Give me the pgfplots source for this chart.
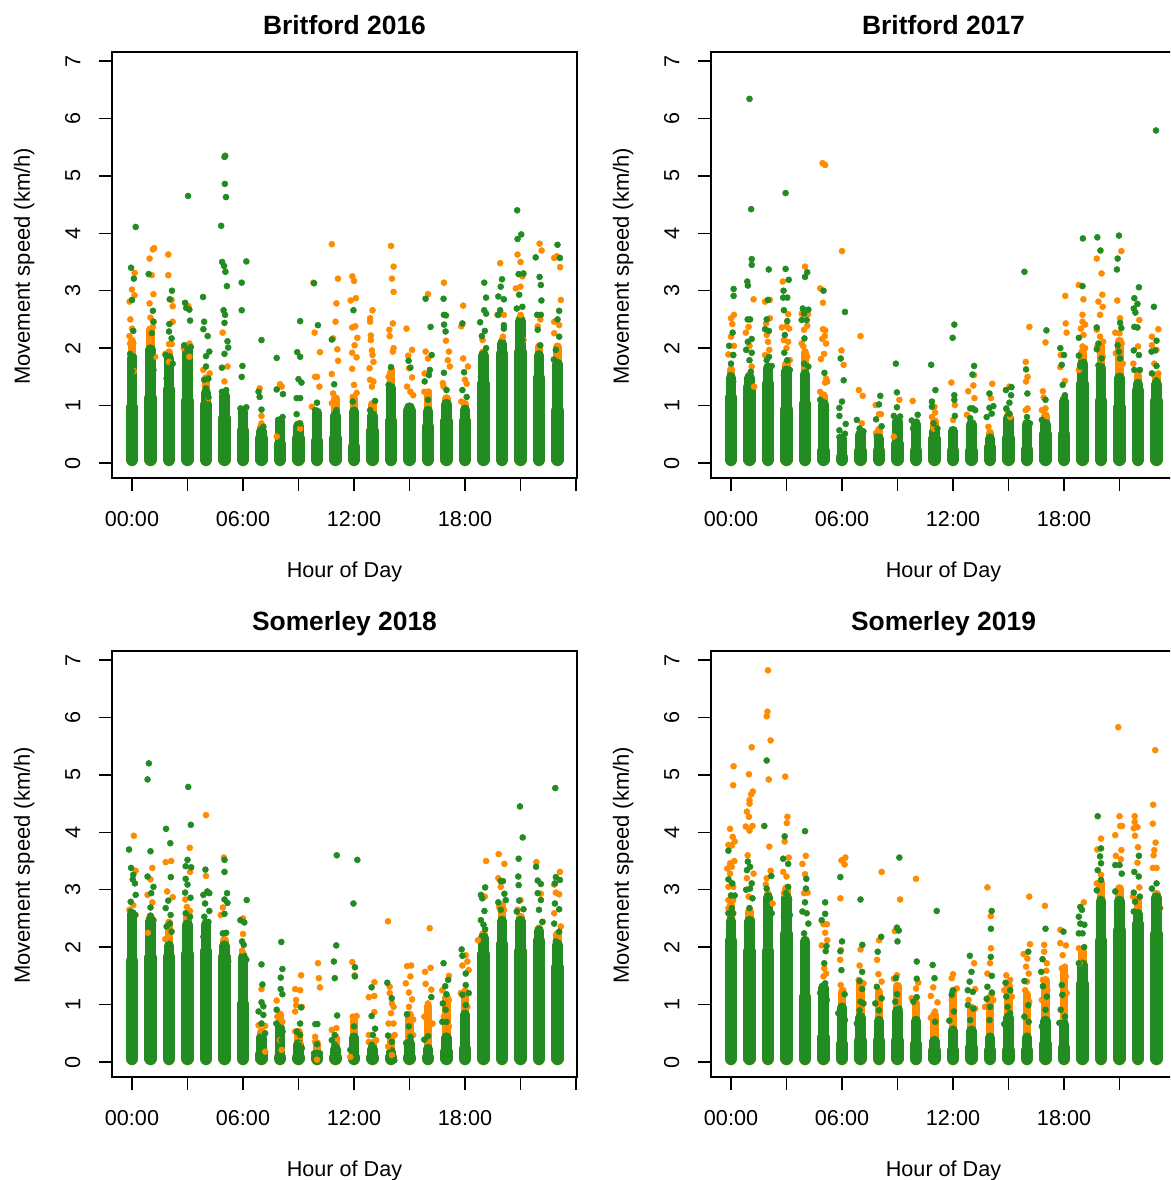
\documentclass[border=0pt]{standalone}
\usepackage{pgfplots}
\usepackage{pgfplotstable}
\usepackage{fontspec}
\setmainfont{Liberation Sans}
\pgfplotsset{compat=1.18}
\definecolor{og}{HTML}{FF8C00}
\definecolor{gr}{HTML}{228B22}
\pgfplotstableread{
h o w n
0 2.2 1.04 1.9
1 2.4 1.2 2.05
2 2.0 1.35 1.9
3 2.1 1.15 2.05
4 1.55 1.08 1.3
5 1.3 .85 1.25
6 1.0 .63 .97
7 .7 .5 .63
8 .8 .4 .8
9 .75 .5 .72
10 .95 .45 .95
11 1.2 .5 .9
12 1.2 .35 .97
13 1.1 .63 .9
14 1.65 .8 1.38
15 1.05 .98 1.04
16 1.3 .7 .98
17 1.2 .8 1.1
18 1.1 .8 1.0
19 2.0 1.45 1.95
20 2.2 1.97 2.15
21 2.6 2.0 2.55
22 2.1 1.55 1.95
23 2.1 .98 1.8
}\coreA
\pgfplotstableread{
h o w n
0 1.7 1.21 1.56
1 1.6 1.39 1.56
2 1.75 1.45 1.73
3 1.8 1.0 1.68
4 2.0 1.1 1.62
5 1.25 .28 1.1
6 .5 .17 .5
7 .6 .28 .57
8 .65 .28 .5
9 .8 .4 .8
10 .75 .28 .75
11 .8 .49 .63
12 .63 .28 .63
13 .75 .28 .75
14 .6 .34 .5
15 .9 .5 .86
16 .75 .3 .75
17 .9 .57 .75
18 1.2 .57 1.15
19 2.0 1.45 1.8
20 2.1 1.15 1.73
21 2.2 1.04 1.56
22 1.6 1.33 1.45
23 1.6 1.15 1.45
}\coreB
\pgfplotstableread{
h o w n
0 2.65 1.83 2.65
1 2.6 1.89 2.53
2 2.5 1.9 2.1
3 2.6 1.95 2.47
4 2.5 2.0 2.47
5 2.2 1.9 2.1
6 1.95 1.08 1.9
7 .6 .2 .5
8 .9 .12 .67
9 .6 .06 .38
10 .4 .05 .2
11 .5 .1 .3
12 .8 .15 .5
13 .4 .1 .3
14 .5 .05 .25
15 .9 .08 .4
16 1.05 .1 .3
17 1.2 .25 .5
18 1.3 .3 .9
19 2.3 1.95 2.24
20 2.8 2.12 2.53
21 2.6 2.0 2.53
22 2.4 2.18 2.36
23 2.3 1.72 2.12
}\coreC
\pgfplotstableread{
h o w n
0 2.82 2.18 2.53
1 2.7 2.0 2.53
2 3.0 2.0 2.94
3 3.1 2.3 2.94
4 2.2 1.2 2.18
5 1.4 .5 1.37
6 1.3 .38 1.02
7 1.45 .44 .85
8 1.3 .44 .79
9 1.4 .44 .96
10 1.1 .38 .79
11 .9 .27 .44
12 1.3 .27 .62
13 1.0 .32 .62
14 1.2 .27 .5
15 1.4 .27 .85
16 1.25 .27 .5
17 1.5 .38 .79
18 1.7 .32 .73
19 2.0 1.43 1.77
20 3.2 2.18 2.88
21 3.1 2.36 2.88
22 2.9 2.47 2.65
23 3.0 2.3 2.94
}\coreD
\newcommand{\panel}[6]{%
\begin{axis}[at={(#1*0.75pt,#2*0.75pt)},anchor=south west,scale only axis,
 width=348.75pt,height=319.5pt,
 xmin=-1.081,xmax=24.054,ymin=-0.261,ymax=7.157,
 axis line style={black,line width=1.1pt},
 tick style={black,line width=1.1pt},major tick length=9.75pt,
 tick align=outside,tick pos=left,
 xtick={0,3,6,9,12,15,18,21,24},
 xticklabels={00:00,,06:00,,12:00,,18:00,,},
 ytick={0,1,2,3,4,5,6,7},yticklabels={0,1,2,3,4,5,6,7},
 xticklabel style={font=\fontsize{16.2pt}{18pt}\selectfont,yshift=-12pt},
 yticklabel style={font=\fontsize{16.2pt}{18pt}\selectfont,rotate=90,anchor=south,yshift=10.5pt},
 title={\textbf{#3}},title style={font=\fontsize{19.8pt}{22pt}\selectfont,at={(axis description cs:0.5,1.0455)},anchor=center},
 xlabel={Hour of Day},xlabel style={font=\fontsize{16.2pt}{18pt}\selectfont,at={(axis description cs:0.5,-0.221)},anchor=center},
 ylabel={Movement speed (km/h)},ylabel style={font=\fontsize{16.5pt}{18pt}\selectfont,at={(axis description cs:-0.189,0.497)},anchor=center},
]
\addplot[ycomb,og,line width=9.7pt,line cap=round,yshift=2.6pt,mark=none] table[x=h,y expr={max(\thisrow{w}-0.14,0.01)}] {#4};
\addplot[ycomb,og,line width=6.5pt,line cap=round,yshift=1pt,mark=none] table[x=h,y expr={max(\thisrow{o}-0.1,0.01)}] {#4};
\addplot[only marks,mark=*,mark size=2.25pt,mark options={og,draw=none,fill=og}] coordinates {#5};
\addplot[ycomb,gr,line width=9.4pt,line cap=round,yshift=2.6pt,mark=none] table[x=h,y expr={max(\thisrow{w}-0.14,0.01)}] {#4};
\addplot[ycomb,gr,line width=8pt,line cap=round,yshift=1.5pt,mark=none] table[x=h,y expr={max(\thisrow{n}-0.11,0.01)}] {#4};
\addplot[only marks,mark=*,mark size=2.25pt,mark options={gr,draw=none,fill=gr}] coordinates {#6};
\end{axis}}
\begin{document}
\begin{tikzpicture}
\path[use as bounding box] (0,0) rectangle (877.5pt,885pt);
\clip (0,0) rectangle (877.5pt,885pt);
\panel{112}{702}{Britford 2016}{\coreA}{
(.14,3.31)(0,3.02)(.14,2.92)(-.13,2.81)(-.09,2.5)(0,2.34)(-.14,2.21)(.07,2.08)(-.1,2.08)(.1,1.6)
(1.13,3.72)(1.2,3.74)(.95,3.56)(1.07,3.27)(1.16,2.94)(.95,2.78)(1,2.53)(1.16,2.46)(1.13,2.37)(1.25,1.85)
(1.96,3.63)(1.96,3.27)(2.14,2.84)(2.2,2.73)(2.2,2.46)(2,2.07)(2.15,2.07)(1.8,1.9)(2,1.76)
(3.05,2.73)(3.1,2.08)(2.8,2.0)(3.1,1.85)
(3.85,1.62)(4.2,1.56)(4.13,1.13)
(4.9,2.27)(5.16,1.68)(5,1.42)
(6.9,1.3)(7,.82)(7,.69)(8,1.37)(7.82,.46)(8.09,1.33)(9.09,.6)
(9.8,3.14)(9.87,2.27)(10.16,1.93)(10,1.5)(9.9,1.5)(10.13,1.33)(9.72,.98)
(10.8,3.81)(11.13,3.21)(11.05,2.78)(11,2.46)(10.87,2.17)(11.1,1.98)(11.14,1.78)(10.8,1.55)(10.87,1.21)(10.8,1.04)
(11.91,3.25)(12,3.17)(11.82,2.83)(12.1,2.87)(11.9,2.36)(12.07,2.38)(12.18,2.18)(12.03,2.05)(11.9,1.92)(12.14,1.84)(11.9,1.64)(12,1.36)(11.93,1.15)(12.14,1.22)
(13,2.66)(12.87,2.52)(12.87,2.46)(12.91,2.22)(12.91,2.14)(12.97,1.96)(13,1.88)(13.05,1.76)(12.84,1.65)(12.87,1.45)(13.05,1.42)(12.97,1.33)
(14,3.78)(14.14,3.42)(14.05,3.21)(14.14,2.98)(14.1,2.43)(13.91,2.32)(13.93,2.21)(14.14,2.0)(14.1,1.94)(14.05,1.62)(13.87,1.5)
(14.84,2.34)(15.14,1.97)(14.93,1.87)(14.97,1.65)(15.14,1.49)(14.87,1.33)(15.05,1.24)(15.2,1.18)
(16,2.94)(15.87,1.94)(16,1.82)(15.8,1.24)(16.05,1.24)(15.82,1.56)
(16.86,3.14)(16.97,2.13)(17.13,1.94)(17.07,1.79)(17.18,1.68)(16.8,1.39)(16.84,1.33)
(17.9,2.74)(17.8,2.38)(17.9,1.82)(18.16,1.68)(18,1.45)(18.09,1.38)(17.8,1.07)
(18.95,2.14)
(19.9,3.48)(20.1,2.58)(19.75,2.58)(20.05,2.2)
(20.84,3.63)(21,3.5)(21.1,3.25)(20.75,3.04)(21,3.07)(21,2.58)(21.16,2.14)
(22.03,3.82)(22.14,3.7)(22.07,2.5)(21.93,2.38)
(22.82,3.57)(22.97,3.6)(23.14,3.41)(23.18,2.84)(22.82,2.46)(23.09,2.4)(22.82,2.26)
}{
(.2,4.11)(-.05,3.4)(.1,3.21)(0,2.84)(.07,2.3)(-.1,1.9)(.1,1.85)(0,1.6)(-.1,1.45)(.1,1.3)(-.1,1.2)(.05,1.1)
(.9,3.29)(1.13,2.65)(1.16,2.46)(1.07,2.26)(1,2.0)(1.07,1.9)(1,1.8)(1.16,1.62)(.9,1.56)(1,1.38)
(2.16,3.0)(2.04,2.85)(2.02,2.42)(2,2.29)(2.14,2.17)(1.82,1.88)(2.2,1.73)(1.97,1.65)(2.05,1.53)(1.87,1.47)
(3.03,4.65)(2.87,2.79)(2.93,2.7)(3.1,2.67)(3.14,2.48)(2.82,2.05)(3.18,2.02)(3,1.97)(3.05,1.7)(2.93,1.62)(3.1,1.5)(3,1.33)
(3.84,2.89)(3.9,2.46)(3.86,2.33)(4.09,2.21)(4.18,1.94)(4,1.86)(4,1.68)(3.9,1.45)(4.13,1.47)(4,1.3)(4.13,1.15)
(5,5.33)(5.04,5.35)(5.02,4.86)(5.08,4.63)(4.82,4.13)(4.87,3.5)(4.98,3.43)(5.05,3.33)(5.13,3.08)(4.95,2.66)(5.03,2.58)(5,2.44)(5.16,2.12)(5.2,2.01)(5,1.9)(4.86,1.66)(5.09,1.27)(4.86,1.24)(5,1.1)
(5.93,3.14)(6.18,3.51)(5.93,2.66)(5.97,1.69)(5.93,1.5)(5.86,.95)(6.18,.97)(6,.8)
(7,2.14)(6.84,1.24)(6.9,1.15)(7,.93)(7.1,.63)
(7.82,1.83)(7.82,1.28)(8.16,1.2)(8.14,.8)(7.9,.75)(8,.58)
(8.93,1.93)(9.09,1.85)(9.09,2.47)(9,1.46)(9.16,1.4)(8.9,1.13)(9.09,1.13)(8.9,.85)(9.09,.69)
(9.84,3.13)(10.05,2.4)(10,1.05)(9.9,.92)(10,.75)
(10.8,2.15)(10.93,1.37)(11.05,.92)(10.9,.8)
(11.97,2.66)(11.93,1.07)(11.9,.85)(12.05,.57)
(13.14,1.08)(12.87,.92)(13.05,.8)
(14,1.67)(13.87,1.36)(14.05,1.27)(14,1.1)(14.1,.92)(14,.75)
(14.95,1.78)(15.05,1.66)
(15.87,2.86)(16.2,1.88)(16.14,2.37)(16.1,1.62)(16.05,1.53)(15.82,1.42)(16,1.1)
(16.84,2.86)(16.86,2.58)(16.97,2.57)(16.87,2.41)(16.95,2.29)(16.86,1.57)(17,1.27)(17.03,1.04)
(17.86,2.43)(17.95,1.58)(17.86,1.27)(18.09,1.15)(18,.86)
(19.04,3.14)(19.14,2.88)(19.04,2.66)(19.14,2.6)(18.82,2.45)(19.07,2.3)(18.91,2.21)(19.14,2.0)(18.95,1.88)(19.04,1.68)(18.86,1.5)
(20,3.2)(19.93,3.07)(19.8,2.9)(20.1,2.85)(19.9,2.66)(19.8,2.58)(20.1,2.4)(20.1,2.34)(19.93,2.08)
(20.82,4.4)(21.04,3.98)(20.84,3.9)(20.9,3.29)(21.16,3.3)(20.93,2.93)(21.1,2.72)(20.8,2.69)(21,2.46)(20.93,2.2)(21.1,2.14)
(21.82,3.58)(22.03,3.24)(22.1,3.1)(22.13,2.83)(21.9,2.58)(22.1,2.58)(21.93,2.32)(22.07,2.05)(21.93,1.85)
(23,3.8)(23.13,3.57)(23.09,2.65)(23,2.5)(23.09,2.2)(22.91,1.97)(22.8,1.8)(23.09,1.73)(22.91,1.5)(23,1.33)
}
\panel{711}{702}{Britford 2017}{\coreB}{
(0,2.52)(.16,2.58)(.07,2.42)(0,2.2)(.16,2.04)(-.14,1.89)(.12,1.88)
(1.22,2.85)(.95,2.37)(.8,2.27)(1,2.04)(1.12,1.68)(1.25,1.33)
(2.1,2.84)(1.84,2.81)(2.1,2.52)(1.9,2.43)(1.93,2.23)(2,2.11)(2.07,1.97)(1.84,1.88)
(2.8,3.16)(3.09,2.59)(2.75,2.36)(3,2.38)(3.14,2.34)(2.86,2.14)(3.09,2.11)(3,2.0)(3.18,1.79)
(4,3.42)(4.16,2.59)(3.82,2.6)(4.12,2.39)(3.95,2.32)(3.82,2.08)(4,1.94)(4.12,1.85)(3.91,2.03)
(4.95,5.22)(5.09,5.19)(4.82,3.04)(4.97,2.79)(4.97,2.33)(5.09,2.31)(5.07,2.21)(4.93,2.16)(5.14,2.08)(5.03,1.9)(4.86,1.81)(5.14,1.47)(5.2,1.42)(5.09,1.4)(4.82,1.24)
(6,3.69)(5.97,1.96)(6.09,1.71)
(7,2.21)(6.91,1.27)(7.12,1.17)(7.07,.69)
(7.82,1.01)(8,.85)(8.1,.85)(7.84,.52)
(9.1,1.1)(8.8,.46)(9.82,1.08)
(10.86,.8)(11,.98)(10.95,.6)(11.03,.88)
(11.91,1.4)(12.1,1.01)(12,.75)
(12.82,1.25)(13.1,1.35)(13.16,1.13)(13.14,1.53)(12.75,.84)
(14.12,1.38)(14.05,1.13)(13.91,.63)
(15.05,1.33)(14.91,.92)(15.09,.8)
(16.13,2.37)(15.93,1.76)(16.03,1.5)(15.95,1.42)(15.93,.92)(16.03,.95)
(17,2.1)(16.86,1.25)(16.9,1.14)(17,.95)(16.8,.92)
(18.07,2.91)(18.09,2.43)(18.14,2.27)(17.82,1.88)(17.8,1.67)(18.05,1.43)
(18.8,3.1)(19.05,2.85)(19,2.58)(19,2.46)(19.14,2.41)(18.91,2.34)(19.05,2.23)(19,2.03)(19.14,2.0)(18.8,1.62)
(19.77,3.56)(20.03,3.3)(20.07,2.93)(19.86,2.81)(20.09,2.72)(19.95,2.58)(19.77,2.32)(19.95,2.2)(20.12,2.11)(19.8,2.03)(20.1,1.85)
(21.1,3.69)(20.88,2.83)(21.03,2.52)(20.77,2.27)(21,2.26)(21.12,2.08)(20.8,1.91)(21.18,1.73)
(22.07,2.49)(22,2.03)(21.75,1.73)
(23.1,2.33)(22.75,2.2)(22.75,2.05)(23,1.97)(22.88,1.73)(23.1,1.56)
}{
(.14,3.03)(.14,2.91)(.09,2.27)(-.1,2.04)(.12,1.88)(0,1.73)(-.05,1.53)(.12,1.42)
(1,6.34)(1.09,4.42)(1.12,3.55)(1.12,3.45)(.88,3.16)(.91,3.09)(.9,2.5)(1.03,2.5)(1.12,2.16)(.91,2.11)(.82,1.97)(1.12,1.92)(1,1.79)(1.07,1.59)
(2.04,3.37)(2,2.84)(1.93,2.5)(1.84,2.33)(2.05,2.3)(2.05,1.85)(1.93,1.79)(2.2,1.69)(2.02,1.53)
(2.95,4.7)(2.95,3.38)(3.12,3.19)(2.84,3.0)(2.82,2.88)(3.04,2.88)(2.86,2.66)(3.04,2.47)(2.91,2.23)(2.88,1.92)(3.04,1.79)(3.18,1.62)(2.86,1.53)
(4.12,3.32)(4,3.24)(3.88,2.69)(4.18,2.67)(3.95,2.6)(3.82,2.49)(4.09,2.49)(3.97,2.17)(3.95,1.73)(4.18,1.68)(3.95,1.56)
(5,3.0)(5.05,1.57)(4.82,1.1)(5.14,.92)(4.91,.75)(5.09,.57)
(6.16,2.63)(5.93,1.82)(6.09,1.44)(6,1.07)(5.86,.96)(5.86,.82)(6.2,.68)(5.86,.57)(6.16,.51)(5.86,.45)
(6.8,.75)(7.16,.55)(6.95,.6)
(8.07,1.17)(8,1.02)(7.84,.76)(8.14,.64)(7.88,.46)
(8.91,1.73)(8.97,1.23)(8.97,.97)(8.8,.82)(9.14,.81)(8.97,.63)
(10.09,.84)(9.77,.74)(10.03,.72)(9.84,.6)
(10.82,1.71)(11.05,1.27)(10.86,1.07)(10.86,.98)(10.95,.69)(11.16,.6)
(11.98,2.18)(12.07,2.41)(12.07,1.18)(12.07,1.1)(12.1,.82)
(13.14,1.69)(13.05,1.54)(13.07,.95)(12.93,.95)(12.93,.78)(13.2,.92)
(13.97,1.21)(14.18,.99)(13.97,.96)(13.82,.8)(14.09,.86)
(14.86,1.27)(15.16,1.32)(15.14,1.18)(15.05,1.05)(14.88,.95)(15.05,.86)
(15.86,3.33)(15.95,1.63)(16.02,1.21)(16,.8)(16.16,.69)
(17.05,2.31)(17,1.1)(16.8,.75)(17.07,.63)
(17.8,2.0)(18,1.88)(17.88,1.71)(17.93,1.36)(18.05,1.18)
(19.02,3.91)(19,3.08)(18.8,2.18)(18.8,1.87)(19.09,1.76)(18.88,1.68)
(19.8,3.93)(19.97,3.7)(19.77,2.36)(19.77,1.98)(19.86,2.08)(20.03,1.82)(19.86,1.7)
(20.97,3.96)(20.9,3.56)(20.86,3.37)(21.03,2.44)(21.1,2.35)(20.9,2.05)(20.97,1.94)(21.03,1.82)
(22.05,3.06)(21.8,2.87)(21.97,2.77)(21.77,2.69)(21.86,2.62)(21.8,2.37)(21.97,2.36)(21.77,1.96)(22.05,1.88)(21.8,1.62)(22.1,1.62)
(22.97,5.79)(22.86,2.72)(23,2.13)(22.93,1.96)(22.73,1.94)(23,1.69)(22.75,1.56)(23,1.44)
}
\panel{112}{103}{Somerley 2018}{\coreC}{
(.1,3.94)(.2,3.33)(.07,2.73)(-.14,2.65)(.2,2.56)
(1.1,3.38)(1,3.18)(.84,2.91)(1.1,2.78)(.86,2.25)
(1.82,3.48)(2.12,3.5)(1.9,2.97)(2.2,2.87)(1.8,2.14)
(3.12,3.73)(3.14,3.31)(2.88,2.83)(2.97,2.7)(3.14,2.63)
(4,4.3)(4,3.24)
(4.97,3.56)(4.91,2.69)(4.8,2.56)
(6,2.5)(6,2.23)(5.95,1.94)
(7,1.27)(6.84,.64)(7.2,.63)(6.93,.5)(7.2,.18)
(7.82,1.07)(7.86,.79)(8.13,.7)(8,.38)(8.09,.21)
(9.14,1.51)(8.82,1.27)(9.09,1.25)(8.87,1.08)(8.87,.99)(8.82,.88)(9.18,.96)(8.82,.53)(9.09,.31)
(10.05,1.72)(10.1,1.46)(10.16,1.3)(9.9,.44)(9.9,.35)(10,.04)
(11.05,.59)(10.8,.56)
(11.91,1.74)(12.03,1.51)(11.93,.79)(12.14,.8)(11.8,.09)
(13.1,1.39)(12.8,1.13)(13.1,1.15)(13.1,.87)(12.8,.47)(13.2,.38)(12.8,.35)
(13.84,2.45)(13.93,1.31)(13.93,1.2)(14.05,1.02)(14.14,.96)(14,.85)(13.87,.67)(14.14,.67)(14.2,.47)(13.84,.27)(14.05,.12)
(14.87,1.67)(15.09,1.68)(15.05,1.49)(14.8,1.37)(14.97,1.21)(15.14,1.09)(14.97,.96)(15.2,.74)(15.2,.47)
(16.09,2.33)(15.84,1.57)(16.14,1.64)(15.87,1.36)(16.18,1.26)(16,1.02)(15.8,.79)(16.25,.67)
(17.13,1.5)(16.77,1.25)(17.13,1.08)(16.86,.79)(17.13,.62)
(18.13,1.75)(17.86,1.68)(18.04,1.86)(18.2,1.6)(17.77,1.2)(18.13,.96)
(19.14,3.5)(19.07,2.88)(18.7,2.12)
(19.82,3.62)(20.13,3.45)(19.8,3.2)(19.93,3.05)(19.84,2.7)(20.1,2.65)
(21,2.82)(20.84,2.65)
(21.86,3.48)(22.1,2.93)(22.2,2.44)
(23.13,3.31)(22.82,3.09)(22.91,2.95)(23.09,2.92)(23.18,2.36)(22.82,2.59)
}{
(-.16,3.7)(-.05,3.38)(.07,3.26)(.04,3.18)(.16,3.11)(.2,2.91)(-.07,2.79)(.16,2.56)(-.07,2.62)(-.1,2.42)(.07,2.33)(-.1,2.12)
(.91,5.2)(.84,4.92)(1,3.67)(.84,3.23)(1.16,3.05)(1.04,2.94)(1,2.69)(1,2.55)(1.16,2.47)(1.13,2.36)(.9,2.12)
(1.84,4.06)(2.07,3.81)(2.1,3.22)(1.96,2.81)(1.82,2.68)(2.09,2.56)(2.05,2.41)(1.87,2.36)(2.14,2.27)
(3.04,4.79)(3.18,4.13)(3,3.52)(2.9,3.41)(3.2,3.39)(2.9,3.19)(3,3.09)(2.87,2.95)(3.16,2.86)(2.9,2.59)(3.14,2.53)(3,2.36)(2.93,2.24)
(3.97,3.35)(4.07,2.97)(3.86,2.91)(4.18,2.94)(3.95,2.76)(4.18,2.63)(3.91,2.53)(4.13,2.44)(4.04,2.36)(3.86,2.18)
(5,3.52)(5,3.31)(5.14,2.94)(5,2.83)(5.16,2.77)(5,2.58)(4.91,2.24)(5.09,2.25)(5.2,1.75)
(6.2,2.82)(5.86,2.47)(6.07,2.43)(5.95,2.1)(6.04,2.04)(6.18,1.78)
(7,1.7)(7.05,1.35)(7,1.04)(7.1,.97)(6.84,.88)(7.1,.82)(7,.67)(6.9,.44)(7.2,.5)
(8.07,2.09)(8.13,1.62)(8.04,1.47)(8.04,1.27)(8.13,1.18)(7.82,.91)(7.8,.67)(7.91,.62)(8.14,.53)(8.09,.38)
(9.14,.95)(9.09,.67)(8.91,.53)(9.09,.47)(9,.3)(9.18,.24)
(9.91,.66)(10.02,.66)(10,.31)(9.84,.15)(10.16,.15)
(11.07,3.6)(11.04,2.03)(10.91,1.75)(10.96,1.46)(11.09,.81)(10.96,.47)(10.8,.38)(10.96,.3)
(12.18,3.52)(11.97,2.76)(12.05,1.65)(12.05,1.49)(12,.62)(11.93,.38)(11.8,.21)
(12.95,1.3)(12.95,.8)(13.14,.58)(13.02,.47)(12.96,.3)
(13.8,1.38)(14.04,1.11)(13.84,.46)(14.05,.35)(14.18,.03)
(14.86,.83)(14.96,.62)(15.05,.44)(14.82,.33)(15.09,.24)
(16.18,1.13)(16,.45)(15.8,.39)(16,.21)
(16.84,1.72)(17.09,1.43)(16.93,1.32)(17,1.18)(16.8,1.02)(16.95,.91)(17,.7)(16.77,.7)
(17.82,1.96)(17.86,1.85)(18.04,1.54)(18.04,1.34)(17.86,1.17)(18.2,1.2)(18.04,.99)(18.09,.79)(17.91,.53)
(19.09,3.04)(18.86,2.91)(18.93,2.85)(19.05,2.63)(18.86,2.47)(19,2.39)(19.09,2.31)
(20.05,3.15)(19.93,3.15)(20.13,2.93)(19.8,2.78)(20.2,2.82)(19.93,2.65)(20.1,2.39)
(20.97,4.45)(21.12,3.91)(20.9,3.54)(20.88,3.23)(20.9,3.08)(20.93,2.81)(21.16,2.66)(20.8,2.62)
(21.84,3.4)(21.93,3.16)(22.1,3.1)(21.93,2.94)(22.1,2.82)(22,2.65)(22.18,2.44)
(22.88,4.77)(22.91,3.22)(23.13,3.17)(22.86,3.11)(22.86,2.76)(23.09,2.66)(22.82,2.41)(23.09,2.27)(22.91,2.1)
}
\panel{711}{103}{Somerley 2019}{\coreD}{
(.14,5.15)(.12,4.82)(-.05,4.06)(.09,3.92)(.2,3.84)(-.14,3.78)(.04,3.77)(.18,3.5)(-.05,3.46)(-.2,3.37)(.04,3.4)(-.05,3.28)(-.14,3.05)(.12,3.05)(-.14,2.82)(.12,2.82)(-.14,2.68)
(1.12,5.48)(.97,5.01)(1.18,4.71)(1.09,4.66)(1,4.56)(1,4.5)(.86,4.36)(.97,4.27)(.8,4.1)(1.16,4.11)(1,4.03)(.9,3.6)(1.22,3.28)(.86,3.2)(.95,2.88)
(2,6.82)(1.97,6.1)(1.93,6.02)(2.14,5.6)(2.04,4.92)(2.07,3.75)(2.14,3.33)(1.93,3.2)(1.88,3.09)(2.25,2.76)
(2.93,4.97)(3.05,4.27)(3.02,4.16)(2.9,3.84)(3.12,3.56)(2.82,3.31)(3,3.23)(2.86,2.94)
(4.04,3.59)(3.86,3.45)(4,3.27)(4.14,2.95)(3.95,2.94)
(5.18,2.4)(5,2.4)(5.09,2.25)(5.2,2.12)(4.9,2.03)(5.04,1.63)(5.14,1.54)(5,1.49)
(6.18,3.56)(5.97,3.51)(6.14,3.44)(5.91,2.85)(5.95,1.95)(5.9,1.78)(5.93,1.34)(6.07,1.25)
(7,1.96)(6.95,1.68)(6.9,1.43)(7.16,1.37)
(8.14,3.31)(8,2.12)(7.9,1.78)(7.97,1.53)(8.14,1.4)
(9.14,2.83)(8.86,2.28)(8.97,1.51)(8.8,1.45)
(10,3.19)(10.12,1.38)(10,1.28)(9.77,1.11)
(11.16,1.04)(11.03,.88)(10.93,1.3)(10.8,1.15)(10.8,.77)
(12,1.53)(11.93,1.46)(12.2,1.28)(11.93,1.08)(12.05,.9)
(13.14,1.72)(13.2,1.27)(12.84,1.08)(13,.96)(13.2,.93)
(13.86,3.04)(14.04,2.54)(14.05,1.98)(14,1.72)(13.86,1.54)(14.09,1.17)(13.73,.96)(14.18,1.08)
(14.88,1.51)(15.09,1.43)(14.77,1.25)(15.18,1.14)
(16.12,2.88)(16.16,2.05)(15.82,1.88)(16.02,1.8)(15.95,1.66)(16.09,1.54)(16,1.4)(15.9,1.25)(16,1.17)(16.12,1.05)
(16.97,2.72)(16.93,2.04)(16.93,1.92)(17.07,1.72)(17.04,1.59)(16.86,1.43)(17.1,1.25)(16.8,1.08)
(17.8,2.3)(17.8,2.07)(18.1,2.03)(17.93,1.86)(18.05,1.66)(17.88,1.63)(18.1,1.49)(18.14,1.2)
(19.07,2.78)(18.8,1.98)(18.84,1.72)
(20,3.89)(19.8,3.7)(20,3.26)(19.77,3.11)
(20.93,5.83)(21,4.28)(21.04,4.11)(21.14,4.11)(20.77,3.95)(21.1,3.69)(20.8,3.59)(21.07,3.53)
(21.82,4.28)(21.82,4.18)(21.97,4.09)(21.77,4.07)(21.84,3.94)(22,3.74)(21.97,3.47)(22.07,3.04)(21.73,2.88)
(22.93,5.43)(22.82,4.48)(22.8,4.15)(22.95,3.82)(22.88,3.69)(22.84,3.6)(22.8,3.38)(23,3.38)(23.2,2.68)
}{
(-.14,3.68)(-.14,3.18)(.07,3.11)(0,2.9)(.2,2.9)(.04,2.68)(-.14,2.59)(.12,2.59)(-.05,2.42)
(.91,3.49)(1.03,3.4)(.86,3.34)(1.12,3.11)(1.03,3.02)(.82,3.0)(1.16,2.85)(1,2.68)(1.12,2.47)(.95,2.35)
(1.93,5.25)(1.8,4.11)(2.18,3.24)(1.93,3.02)(2.05,2.88)(1.93,2.7)(2.2,2.59)(2.02,2.42)
(2.9,3.93)(2.82,3.54)(3.09,3.45)(3.09,3.05)(2.97,2.94)(3.14,2.82)(2.86,2.53)(3.18,2.56)
(4,4.02)(4.07,3.19)(4.05,3.02)(4,2.78)(3.86,2.62)(4.09,2.59)(4.18,2.41)(3.95,2.24)
(5.09,2.78)(5.09,2.58)(4.9,2.47)(5.16,2.02)(5.12,1.93)(5.04,1.72)(5.09,1.37)(4.82,1.2)(5.18,1.08)
(5.91,3.22)(6,2.1)(5.91,1.93)(5.97,1.6)(6.14,1.18)(6,.96)(5.8,.85)(6.16,.73)
(7,2.83)(7.1,2.04)(7.09,1.57)(6.95,1.41)(7.09,1.27)(7,1.05)(7.16,1.02)(6.95,.9)(6.8,.67)
(8.12,2.18)(7.93,1.92)(7.88,1.31)(7.8,1.02)(8.14,1.11)(8,.9)
(9.1,3.56)(8.97,2.34)(9.07,2.29)(9,2.1)(8.91,1.46)(8.97,1.18)(8.88,1.05)(9.1,.93)
(10.04,1.75)(10.04,1.45)(9.86,1.05)(10.04,1.13)
(11.12,2.63)(10.9,1.69)(11,1.46)(11.04,.7)
(11.8,.72)(11.93,1.17)(12,1.25)(12.05,.88)(11.93,.56)
(12.91,1.85)(13,1.57)(12.9,1.4)(13.07,1.22)(12.8,1.25)(12.8,.99)(13.1,.93)(12.93,.73)
(14.09,2.63)(14.05,2.32)(14.04,1.83)(14.1,1.5)(13.86,1.31)(14.1,1.21)(13.82,1.1)(14,.96)(13.97,.73)
(14.84,1.38)(15.09,1.25)(14.88,1.14)(14.95,.96)(15.09,.85)(14.77,.66)
(16.07,1.92)(15.86,1.41)(16.07,.99)(15.86,.79)(16.09,.7)
(17,2.32)(16.84,1.79)(16.77,1.57)(16.86,1.32)(17.07,1.14)(17,.91)(16.8,.62)
(17.97,2.27)(17.88,1.34)(17.91,1.17)(17.82,.91)(18.05,.79)(17.75,.68)
(18.88,2.7)(18.97,2.65)(18.8,2.53)(18.88,2.41)(19.1,2.39)(19,2.24)(18.8,2.24)(19.09,2.0)(18.8,1.72)(19,1.6)
(19.82,4.28)(20,3.72)(19.95,3.58)(20,3.46)(19.82,3.34)(20,3.17)(19.77,2.99)
(20.77,3.43)(21,3.43)(21.12,3.28)(20.77,2.97)(21.03,2.82)
(22.05,3.59)(21.8,3.31)(22.04,3.23)(21.77,2.95)(22.1,2.88)(21.84,2.79)(21.77,2.62)
(23,3.11)(22.75,3.02)(23,2.88)(23.16,2.68)(22.88,2.59)
}
\end{tikzpicture}
\end{document}
